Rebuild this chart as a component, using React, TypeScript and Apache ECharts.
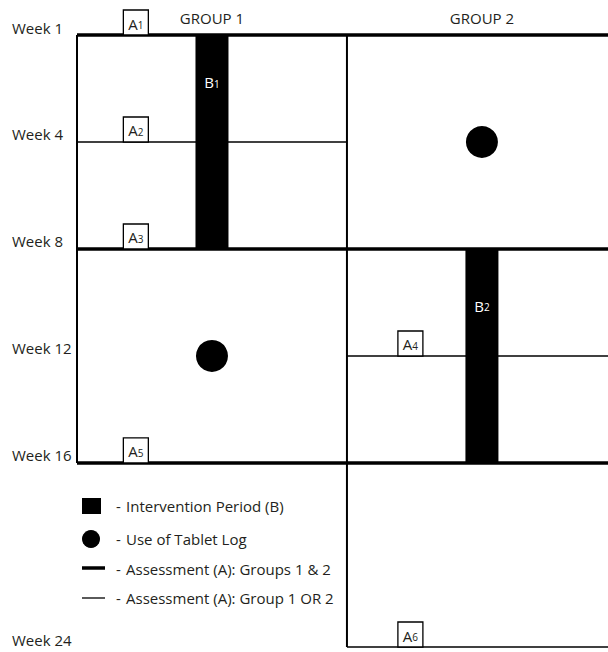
import React, { useEffect, useRef } from "react";
import * as echarts from "echarts";

// ---- data ----
const weekLabels = ["Week 1", "Week 4", "Week 8", "Week 12", "Week 16", "Week 24"];
// schematic row position of each week on the vertical axis
const weekRows = [0, 1, 2, 3, 4, 5.72];
const groups = ["GROUP 1", "GROUP 2"];
// last week index of each group's timeline
const groupEnd = [4, 5];
// assessments for both groups (thick lines): week index
const sharedAssessments = [0, 2, 4];
// assessments for one group only (thin lines): [group, week index]
const singleAssessments = [[0, 1], [1, 3], [1, 5]];
// intervention periods: [group, start week idx, end week idx, label row, subscript]
const interventions = [[0, 0, 2, 0.44, 1], [1, 2, 4, 2.53, 2]];
// use of tablet log: [group, week index]
const tabletLog = [[1, 1], [0, 3]];
// assessment tags: [x position, week index, subscript]
const assessmentTags = [
  [0.218, 0, 1],
  [0.218, 1, 2],
  [0.218, 2, 3],
  [1.235, 3, 4],
  [0.218, 4, 5],
  [1.235, 5, 6],
];
const legendItems = [
  "Intervention Period (B)",
  "Use of Tablet Log",
  "Assessment (A): Groups 1 & 2",
  "Assessment (A): Group 1 OR 2",
];

const FONT = "'Open Sans', 'Noto Sans', sans-serif";
const INK = "#231f20";
const FS = 15;

export default function App() {
  const ref = useRef<HTMLDivElement>(null);
  useEffect(() => {
    const chart = echarts.init(ref.current!, null, { renderer: "svg" });

    // segments: [x0, y0, x1, y1, kind] kind 0 thick, 1 thin, 2 border
    const segments: number[][] = [];
    sharedAssessments.forEach((w) => segments.push([0, weekRows[w], 2, weekRows[w], 0]));
    singleAssessments.forEach(([g, w]) => segments.push([g, weekRows[w], g + 1, weekRows[w], 1]));
    groups.forEach((_, g) => segments.push([g, 0, g, weekRows[groupEnd[g]], 2]));
    segments.push([2, 0, 2, weekRows[groupEnd[1]], 2]);
    const lineWidths = [3.5, 1.4, 2];

    const option: any = {
      animation: false,
      backgroundColor: "#fff",
      grid: { left: 77, right: 0, top: 35, bottom: 5, containLabel: false, outerBoundsMode: "none" },
      xAxis: {
        type: "value",
        position: "top",
        min: 0,
        max: 1.967,
        axisLine: { show: false },
        axisTick: { show: false },
        splitLine: { show: false },
        axisLabel: {
          customValues: [0.5, 1.5],
          formatter: (v: number) => groups[Math.round(v - 0.5)] ?? "",
          margin: 10,
          fontSize: FS,
          fontFamily: FONT,
          color: INK,
        },
      },
      yAxis: {
        type: "value",
        inverse: true,
        min: 0,
        max: 5.72,
        axisLine: { show: false },
        axisTick: { show: false },
        splitLine: { show: false },
        axisLabel: {
          customValues: weekRows,
          formatter: (v: number) => weekLabels[weekRows.indexOf(v)] ?? "",
          align: "left",
          verticalAlign: "bottom",
          margin: 65,
          fontSize: FS,
          fontFamily: FONT,
          color: INK,
        },
      },
      series: [
        {
          type: "custom",
          name: "frame",
          clip: false,
          data: segments,
          renderItem: (params: any, api: any) => {
            const p0 = api.coord([api.value(0), api.value(1)]);
            const p1 = api.coord([api.value(2), api.value(3)]);
            return {
              type: "line",
              shape: { x1: p0[0], y1: p0[1], x2: p1[0], y2: p1[1] },
              style: { stroke: "#000", lineWidth: lineWidths[api.value(4)] },
            };
          },
        },
        {
          type: "custom",
          name: "Intervention Period (B)",
          clip: false,
          data: interventions.map(([g, s, e, lr, n]) => [g + 0.5, weekRows[s], weekRows[e], lr, n]),
          renderItem: (params: any, api: any) => {
            const top = api.coord([api.value(0), api.value(1)]);
            const bot = api.coord([api.value(0), api.value(2)]);
            const lab = api.coord([api.value(0), api.value(3)]);
            const w = 33;
            return {
              type: "group",
              children: [
                {
                  type: "rect",
                  shape: { x: top[0] - w / 2, y: top[1], width: w, height: bot[1] - top[1] },
                  style: { fill: "#000" },
                },
                {
                  type: "text",
                  x: lab[0],
                  y: lab[1],
                  style: {
                    text: `{b|B}{s|${api.value(4)}}`,
                    align: "center",
                    verticalAlign: "middle",
                    rich: {
                      b: { fill: "#fff", fontSize: FS, fontFamily: FONT, verticalAlign: "bottom" },
                      s: { fill: "#fff", fontSize: 10, fontFamily: FONT, verticalAlign: "bottom", padding: [0, 0, 1, 0] },
                    },
                  },
                },
              ],
            };
          },
        },
        {
          type: "scatter",
          name: "Use of Tablet Log",
          symbol: "circle",
          symbolSize: 32,
          itemStyle: { color: "#000", opacity: 1 },
          emphasis: { disabled: true },
          data: tabletLog.map(([g, w]) => [g + 0.5, weekRows[w]]),
        },
        {
          type: "custom",
          name: "Assessment tags",
          clip: false,
          data: assessmentTags.map(([x, w, n]) => [x, weekRows[w], n]),
          renderItem: (params: any, api: any) => {
            const p = api.coord([api.value(0), api.value(1)]);
            const s = 25;
            return {
              type: "group",
              children: [
                {
                  type: "rect",
                  shape: { x: p[0] - s / 2, y: p[1] - s, width: s, height: s },
                  style: { fill: "#fff", stroke: "#000", lineWidth: 1.3 },
                },
                {
                  type: "text",
                  x: p[0],
                  y: p[1] - s / 2 + 1,
                  style: {
                    text: `{a|A}{s|${api.value(2)}}`,
                    align: "center",
                    verticalAlign: "middle",
                    rich: {
                      a: { fill: INK, fontSize: FS, fontFamily: FONT, verticalAlign: "bottom" },
                      s: { fill: INK, fontSize: 10, fontFamily: FONT, verticalAlign: "bottom", padding: [0, 0, 1, 0] },
                    },
                  },
                },
              ],
            };
          },
        },
      ],
      graphic: [
        { type: "rect", shape: { x: 82, y: 498, width: 19, height: 16 }, style: { fill: "#000" } },
        { type: "circle", shape: { cx: 91, cy: 539, r: 9 }, style: { fill: "#000" } },
        { type: "line", shape: { x1: 82, y1: 568, x2: 105, y2: 568 }, style: { stroke: "#000", lineWidth: 3.5 } },
        { type: "line", shape: { x1: 82, y1: 598, x2: 105, y2: 598 }, style: { stroke: "#000", lineWidth: 1.3 } },
        ...legendItems.flatMap((t, i) => {
          const y = [506, 539, 569, 598][i];
          return [
            { type: "text", x: 116, y, style: { text: "-", fontSize: FS, fontFamily: FONT, fill: INK, verticalAlign: "middle" } },
            { type: "text", x: 126, y, style: { text: t, fontSize: FS, fontFamily: FONT, fill: INK, verticalAlign: "middle" } },
          ];
        }),
      ],
    };
    chart.setOption(option);
    return () => chart.dispose();
  }, []);
  return <div ref={ref} style={{ position: "fixed", left: 0, top: 0, width: 608, height: 652 }} />;
}
